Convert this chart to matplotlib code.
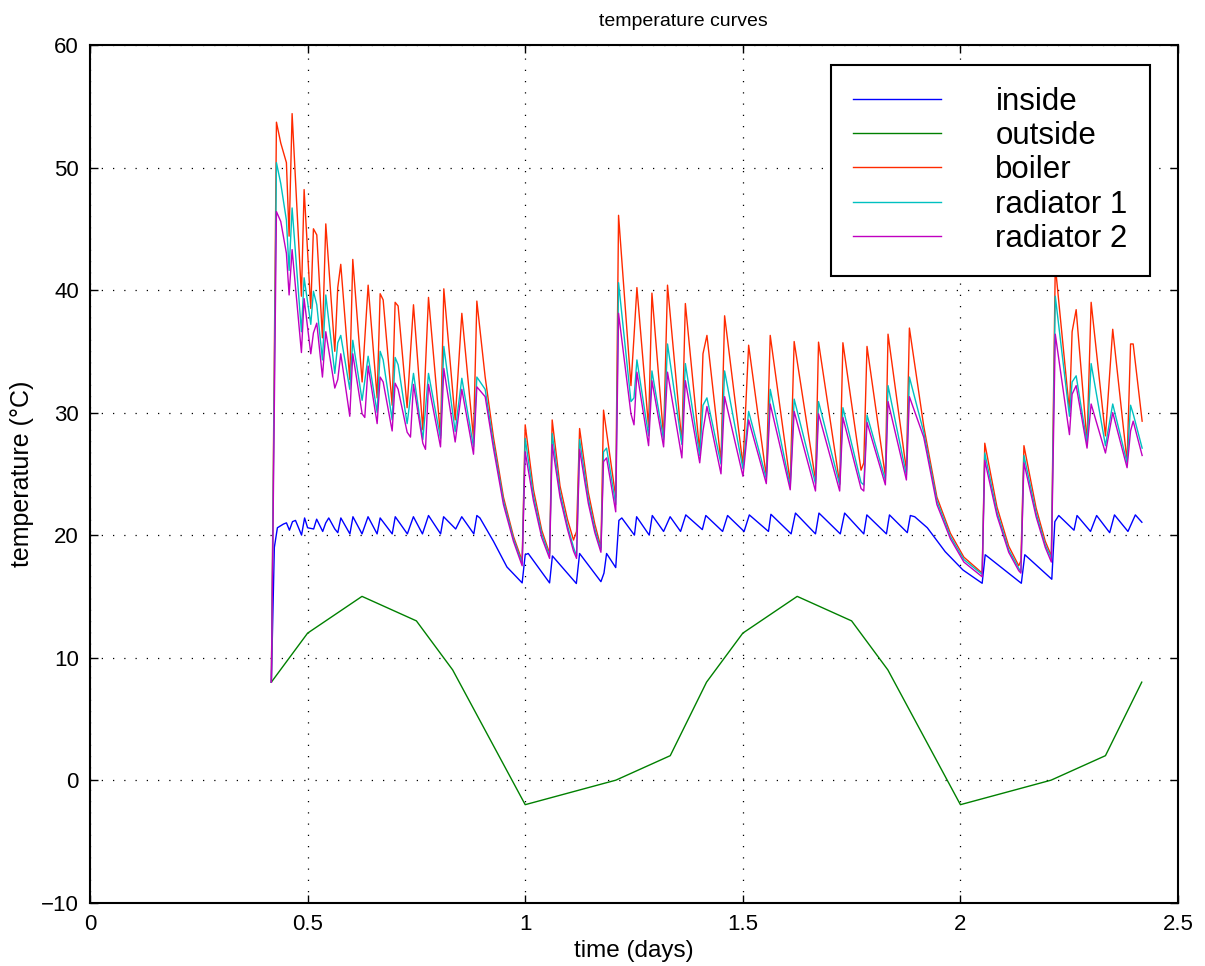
import matplotlib
matplotlib.use("Agg")
import matplotlib.pyplot as plt

plt.rcParams['font.family'] = ['Liberation Sans', 'DejaVu Sans']

# outdoor temperature (time in days)
t_out = [0.4167, 0.5, 0.625, 0.75, 0.8333, 1.0, 1.2083, 1.3333, 1.4167,
         1.5, 1.625, 1.75, 1.8333, 2.0, 2.2083, 2.3333, 2.4167]
outside = [8, 12, 15, 13, 9, -2, 0, 2, 8, 12, 15, 13, 9, -2, 0, 2, 8]

# room temperature
t_in = [0.4167, 0.4236, 0.4306, 0.4444, 0.4514, 0.4583, 0.4653, 0.4722, 0.4861, 0.4931,
        0.5, 0.5139, 0.5208, 0.5347, 0.5417, 0.5486, 0.5625, 0.5694, 0.5764, 0.5972,
        0.6042, 0.625, 0.6389, 0.6597, 0.6667, 0.6944, 0.7014, 0.7292, 0.7431, 0.7639,
        0.7778, 0.8056, 0.8125, 0.8403, 0.8542, 0.8819, 0.8889, 0.896, 0.927, 0.958,
        0.993, 1.0, 1.007, 1.056, 1.0625, 1.1175, 1.125, 1.174, 1.181, 1.187,
        1.208, 1.2153, 1.222, 1.251, 1.256, 1.285, 1.292, 1.318, 1.333, 1.357,
        1.369, 1.407, 1.415, 1.4536, 1.465, 1.503, 1.515, 1.559, 1.5646, 1.611,
        1.621, 1.667, 1.675, 1.724, 1.734, 1.778, 1.785, 1.830, 1.837, 1.878,
        1.885, 1.895, 1.924, 1.965, 2.006, 2.050, 2.057, 2.140, 2.148, 2.21,
        2.217, 2.226, 2.261, 2.268, 2.299, 2.313, 2.343, 2.354, 2.385, 2.402, 2.417]
inside = [8.0, 19.0, 20.6, 20.9, 21.0, 20.4, 21.1, 21.2, 20.0, 21.4,
          20.6, 20.5, 21.3, 20.3, 21.0, 21.4, 20.5, 20.2, 21.4, 20.1,
          21.5, 20.1, 21.5, 20.1, 21.4, 20.1, 21.5, 20.1, 21.5, 20.1,
          21.6, 20.1, 21.5, 20.5, 21.5, 20.1, 21.6, 21.4, 19.5, 17.4,
          16.1, 18.4, 18.5, 16.1, 18.3, 16.05, 18.5, 16.2, 16.9, 18.5,
          17.35, 21.2, 21.4, 20.0, 21.5, 20.0, 21.6, 20.3, 21.5, 20.3,
          21.65, 20.45, 21.6, 20.3, 21.6, 20.3, 21.65, 20.3, 21.7, 20.1,
          21.8, 20.1, 21.8, 20.1, 21.8, 20.1, 21.65, 20.1, 21.65, 20.2,
          21.6, 21.5, 20.6, 18.65, 17.15, 16.07, 18.4, 16.07, 18.4, 16.4,
          21.1, 21.6, 20.4, 21.6, 20.3, 21.6, 20.2, 21.65, 20.3, 21.65, 21.05]

# boiler and radiator temperatures share one time base
t_hot = [0.4167, 0.4284, 0.4383, 0.4513, 0.4575, 0.4644, 0.4858, 0.4920, 0.5073, 0.5134,
         0.5211, 0.5341, 0.5418, 0.5625, 0.5693, 0.5762, 0.5969, 0.6038, 0.6253, 0.6314,
         0.6391, 0.6598, 0.6667, 0.6736, 0.6943, 0.7011, 0.7080, 0.7287, 0.7364, 0.7433,
         0.7648, 0.7709, 0.7778, 0.8054, 0.8130, 0.8391, 0.8544, 0.8812, 0.8889, 0.908,
         0.927, 0.950, 0.973, 0.993, 1.0, 1.019, 1.038, 1.056, 1.062, 1.080,
         1.097, 1.111, 1.118, 1.125, 1.145, 1.160, 1.174, 1.180, 1.187, 1.208,
         1.2145, 1.243, 1.250, 1.2567, 1.2835, 1.2912, 1.318, 1.327, 1.360, 1.368,
         1.401, 1.4085, 1.4176, 1.4499, 1.4582, 1.5004, 1.5134, 1.554, 1.563, 1.609,
         1.618, 1.667, 1.674, 1.7226, 1.730, 1.7717, 1.778, 1.7854, 1.8276, 1.8337,
         1.8759, 1.8828, 1.9157, 1.946, 1.977, 2.008, 2.050, 2.056, 2.084, 2.111,
         2.134, 2.139, 2.146, 2.174, 2.195, 2.209, 2.218, 2.2506, 2.2567, 2.266,
         2.291, 2.3004, 2.3333, 2.350, 2.383, 2.391, 2.397, 2.4176]
boiler = [8.0, 53.7, 52.0, 50.4, 44.4, 54.4, 39.5, 48.2, 38.5, 45.0,
          44.5, 36.1, 45.4, 35.0, 40.2, 42.1, 32.7, 42.5, 32.5, 36.0,
          40.4, 31.2, 39.7, 39.2, 30.6, 39.0, 38.7, 30.4, 34.9, 38.8,
          28.6, 33.8, 39.4, 28.1, 40.1, 29.4, 38.1, 27.9, 39.1, 32.9,
          28.0, 23.1, 19.9, 17.9, 29.0, 23.7, 20.4, 18.5, 29.4, 24.0,
          21.3, 19.6, 20.3, 28.7, 23.5, 20.9, 19.0, 30.2, 28.4, 23.1,
          46.1, 32.2, 36.2, 40.2, 28.8, 39.75, 28.0, 40.4, 27.5, 38.9,
          26.8, 34.8, 36.3, 26.0, 37.9, 25.7, 35.5, 24.8, 36.3, 24.3,
          35.8, 24.5, 35.75, 24.2, 35.7, 25.3, 25.9, 35.4, 24.8, 36.4,
          25.3, 36.9, 28.9, 23.1, 20.15, 18.2, 16.9, 27.5, 22.3, 19.1,
          17.5, 17.9, 27.3, 22.2, 19.5, 18.3, 42.0, 30.1, 36.6, 38.4,
          27.6, 39.0, 28.1, 36.8, 26.0, 35.6, 35.6, 29.3]
radiator1 = [8.0, 50.4, 48.7, 45.7, 41.6, 46.7, 36.6, 41.0, 37.2, 39.9,
             38.8, 34.3, 39.6, 33.2, 35.7, 36.3, 31.9, 35.9, 31.0, 32.6,
             34.6, 30.0, 35.0, 34.3, 29.4, 34.5, 33.9, 29.1, 31.3, 33.2,
             27.8, 30.3, 33.2, 27.9, 35.4, 28.45, 32.8, 27.2, 32.9, 31.9,
             27.5, 22.8, 19.7, 17.7, 27.9, 23.2, 20.1, 18.3, 28.3, 23.5,
             20.8, 19.0, 18.3, 27.8, 23.0, 20.5, 18.8, 26.8, 27.1, 22.5,
             40.6, 30.9, 31.2, 34.3, 28.1, 33.4, 27.8, 35.6, 27.4, 34.0,
             26.5, 30.6, 31.2, 25.8, 33.4, 25.4, 30.1, 24.6, 31.9, 24.0,
             31.1, 24.2, 30.9, 24.1, 30.4, 24.3, 24.1, 29.8, 24.5, 32.2,
             24.9, 32.9, 28.4, 22.8, 19.9, 18.0, 16.8, 26.7, 21.9, 18.8,
             17.3, 17.0, 26.5, 21.8, 19.2, 18.1, 39.5, 29.7, 32.5, 33.0,
             27.5, 34.0, 27.3, 30.7, 25.9, 30.6, 29.9, 27.1]
radiator2 = [8.0, 46.4, 45.6, 43.0, 39.6, 43.3, 34.9, 39.3, 34.8, 36.5,
             37.3, 32.9, 36.6, 32.0, 32.7, 34.8, 29.7, 34.8, 29.9, 29.6,
             33.8, 29.1, 32.9, 32.5, 28.5, 32.4, 31.9, 28.4, 28.0, 32.3,
             27.5, 27.0, 32.3, 27.2, 33.6, 27.6, 31.9, 26.6, 32.1, 31.3,
             27.1, 22.5, 19.5, 17.5, 26.8, 22.8, 19.8, 18.1, 27.4, 23.1,
             20.5, 18.7, 18.1, 27.0, 22.6, 20.2, 18.6, 26.0, 26.3, 21.9,
             38.1, 29.9, 29.0, 33.3, 27.3, 32.6, 27.2, 33.3, 26.3, 32.6,
             25.9, 28.5, 30.5, 25.0, 31.3, 24.8, 29.4, 24.2, 30.7, 23.7,
             30.1, 23.6, 29.9, 23.6, 29.6, 23.8, 23.6, 29.2, 24.1, 30.9,
             24.5, 31.3, 28.0, 22.5, 19.7, 17.8, 16.6, 26.1, 21.6, 18.6,
             17.1, 16.9, 25.9, 21.5, 19.0, 17.8, 36.4, 28.2, 31.5, 32.2,
             27.1, 30.7, 26.7, 30.0, 25.5, 28.5, 29.3, 26.5]

xticks = [0, 0.5, 1, 1.5, 2, 2.5]
xticklabels = ['0', '0.5', '1', '1.5', '2', '2.5']
yticks = [-10, 0, 10, 20, 30, 40, 50, 60]

fig = plt.figure(figsize=(12.05, 9.66), dpi=100)
ax = fig.add_axes([90 / 1205, 63.3 / 966, 1088 / 1205, 857.7 / 966])

ax.plot(t_in, inside, color='#0000ff', lw=1.0, label='inside')
ax.plot(t_out, outside, color='#008000', lw=1.0, label='outside')
ax.plot(t_hot, boiler, color='#ff2a00', lw=1.0, label='boiler')
ax.plot(t_hot, radiator1, color='#00c0c0', lw=1.0, label='radiator 1')
ax.plot(t_hot, radiator2, color='#c000c0', lw=1.0, label='radiator 2')

ax.set_xlim(0, 2.5)
ax.set_ylim(-10, 60)
ax.set_xticks(xticks)
ax.set_xticklabels(xticklabels)
ax.set_yticks(yticks)
ax.tick_params(direction='in', length=6, width=1, top=True, right=True,
               labelsize=16, pad=8)
ax.grid(True, color='black', linestyle=(0, (1, 8)), linewidth=0.9)
for s in ax.spines.values():
    s.set_linewidth(1.5)

ax.set_title('temperature curves', fontsize=14, pad=14, x=0.545)
ax.set_xlabel('time (days)', fontsize=17.5, labelpad=4)
ax.set_ylabel('temperature (°C)', fontsize=18, labelpad=5)

leg = ax.legend(loc='upper right', bbox_to_anchor=(0.974, 0.977), fontsize=22.5,
                fancybox=False, framealpha=1, edgecolor='black', handlelength=2.8,
                handletextpad=1.75, labelspacing=0.14, borderpad=0.7, borderaxespad=0)
leg.get_frame().set_linewidth(1.5)

fig.savefig('out.png', dpi=100)
